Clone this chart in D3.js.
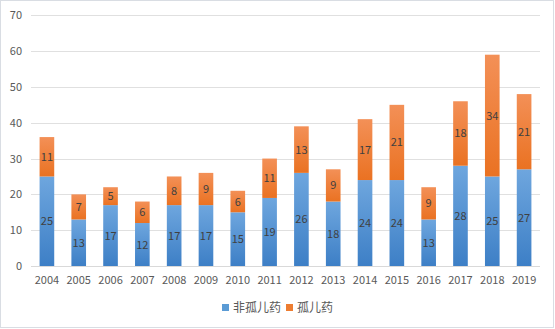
<!DOCTYPE html>
<html><head><meta charset="utf-8">
<script src="https://cdn.jsdelivr.net/npm/d3@7"></script>
<style>body{margin:0;background:#fff}svg{display:block}text{font-family:"Microsoft YaHei","Noto Sans CJK SC","DejaVu Sans",sans-serif}</style>
</head><body><svg id="c" width="555" height="329"></svg>
<script>
const years = ["2004","2005","2006","2007","2008","2009","2010","2011","2012","2013","2014","2015","2016","2017","2018","2019"];
const nonOrphan = [25,13,17,12,17,17,15,19,26,18,24,24,13,28,25,27];
const orphan = [11,7,5,6,8,9,6,11,13,9,17,21,9,18,34,21];
const seriesNames = ["非孤儿药","孤儿药"];
const yTicks = [0,10,20,30,40,50,60,70];

const svg = d3.select("#c");
svg.append("rect").attr("x",0.5).attr("y",0.5).attr("width",553).attr("height",327)
  .attr("fill","#fff").attr("stroke","#d9dde3");
const defs = svg.append("defs");
function grad(id,c1,c2){const g=defs.append("linearGradient").attr("id",id).attr("x1",0).attr("y1",0).attr("x2",0).attr("y2",1);
 g.append("stop").attr("offset","0%").attr("stop-color",c1);g.append("stop").attr("offset","100%").attr("stop-color",c2);}
grad("gb","#6ea6de","#3d7fc6");
grad("go","#f39057","#ea7222");

const x = d3.scaleBand().domain(years).range([31,540]).paddingInner(0.54).paddingOuter(0.27);
const y = d3.scaleLinear().domain([0,70]).range([266,15.3]);

svg.append("g").selectAll("line").data(yTicks.filter(d=>d>0)).join("line")
 .attr("x1",31).attr("x2",540).attr("y1",d=>Math.round(y(d))+0.5).attr("y2",d=>Math.round(y(d))+0.5)
 .attr("stroke","#e0e0e0");
svg.append("g").selectAll("text").data(yTicks).join("text")
 .attr("x",22).attr("y",d=>y(d)+4).attr("text-anchor","end").attr("font-size",11).attr("fill","#595959").text(d=>d);

const data = years.map((yr,i)=>({yr,a:nonOrphan[i],b:orphan[i]}));
const g = svg.append("g");
g.selectAll(".b").data(data).join("rect").attr("x",d=>x(d.yr)).attr("width",x.bandwidth())
 .attr("y",d=>y(d.a)).attr("height",d=>y(0)-y(d.a)).attr("fill","url(#gb)");
g.selectAll(".o").data(data).join("rect").attr("x",d=>x(d.yr)).attr("width",x.bandwidth())
 .attr("y",d=>y(d.a+d.b)).attr("height",d=>y(d.a)-y(d.a+d.b)).attr("fill","url(#go)");
g.selectAll(".lb").data(data).join("text").attr("x",d=>x(d.yr)+x.bandwidth()/2).attr("y",d=>y(d.a/2)+4)
 .attr("text-anchor","middle").attr("font-size",11).attr("fill","#404040").text(d=>d.a);
g.selectAll(".lo").data(data).join("text").attr("x",d=>x(d.yr)+x.bandwidth()/2).attr("y",d=>y(d.a+d.b/2)+4)
 .attr("text-anchor","middle").attr("font-size",11).attr("fill","#404040").text(d=>d.b);

svg.append("line").attr("x1",31).attr("x2",540).attr("y1",266.5).attr("y2",266.5).attr("stroke","#d9d9d9");
svg.append("g").selectAll("text").data(years).join("text").attr("x",d=>x(d)+x.bandwidth()/2).attr("y",284)
 .attr("text-anchor","middle").attr("font-size",11).attr("fill","#595959").text(d=>d);

const leg = svg.append("g");
const items=[{n:seriesNames[0],c:"#5b9bd5",x:222},{n:seriesNames[1],c:"#ed7d31",x:286}];
items.forEach(it=>{leg.append("rect").attr("x",it.x).attr("y",304).attr("width",7).attr("height",7).attr("fill",it.c);
 leg.append("text").attr("x",it.x+11).attr("y",312).attr("font-size",12).attr("fill","#595959").text(it.n);});
</script></body></html>
